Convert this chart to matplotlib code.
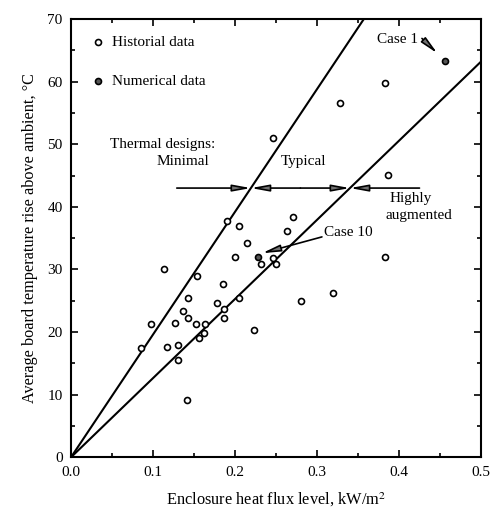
import matplotlib
matplotlib.use("Agg")
import matplotlib.pyplot as plt
import numpy as np
from matplotlib.ticker import MultipleLocator

plt.rcParams['font.family'] = ['Liberation Serif', 'DejaVu Serif']
plt.rcParams['mathtext.fontset'] = 'stix'

# Historical data (heat flux kW/m^2, temperature rise C)
hist_x = [0.085, 0.097, 0.114, 0.117, 0.127, 0.130, 0.131, 0.136, 0.141, 0.143,
          0.143, 0.152, 0.154, 0.156, 0.162, 0.163, 0.178, 0.185, 0.187, 0.187,
          0.190, 0.200, 0.205, 0.205, 0.215, 0.223, 0.232, 0.246, 0.250, 0.264,
          0.271, 0.280, 0.319, 0.383, 0.246, 0.328, 0.387, 0.383]
hist_y = [17.4, 21.3, 30.0, 17.6, 21.5, 18.0, 15.6, 23.3, 9.1, 25.5,
          22.2, 21.3, 28.9, 19.1, 19.8, 21.3, 24.6, 27.6, 23.7, 22.2,
          37.8, 32.0, 25.5, 36.9, 34.2, 20.4, 30.9, 31.8, 30.9, 36.2,
          38.3, 25.0, 26.3, 32.0, 51.0, 56.6, 45.1, 59.8]
# Numerical data
num_x = [0.228, 0.456]
num_y = [32.0, 63.3]
num_labels = ["Case 10", "Case 1"]

# Design boundary slopes (temperature rise per kW/m^2)
slope_minimal = 196.0
slope_typical = 126.4
design_level = 43.0

fig = plt.figure(figsize=(4.94, 5.17), dpi=100)
ax = fig.add_axes([0.1437, 0.1155, 0.8300, 0.8477])

xl = np.array([0.0, 0.5])
ax.plot(xl, slope_minimal * xl, color='black', lw=1.5)
ax.plot(xl, slope_typical * xl, color='black', lw=1.5)

ax.plot(hist_x, hist_y, 'o', mfc='white', mec='black', ms=4.3, mew=1.2, zorder=3)
ax.plot(num_x, num_y, 'o', mfc='#555555', mec='black', ms=4.3, mew=1.2, zorder=3)

# Legend
ax.plot([0.033], [66.4], 'o', mfc='white', mec='black', ms=4.3, mew=1.2)
ax.plot([0.033], [60.1], 'o', mfc='#555555', mec='black', ms=4.3, mew=1.2)
ax.text(0.05, 66.3, "Historial data", fontsize=11, va='center')
ax.text(0.05, 60.0, "Numerical data", fontsize=11, va='center')

x1 = design_level / slope_minimal
x2 = design_level / slope_typical
astyle = '-|>,head_length=1.2,head_width=0.22'
ap = dict(arrowstyle=astyle, ec='black', fc='#707070', lw=1.2, mutation_scale=9,
          shrinkA=0, shrinkB=0)
ax.annotate("", xy=(x1, design_level), xytext=(0.129, design_level), arrowprops=ap)
ax.annotate("", xy=(x1, design_level), xytext=((x1 + x2) / 2, design_level), arrowprops=ap)
ax.annotate("", xy=(x2, design_level), xytext=((x1 + x2) / 2, design_level), arrowprops=ap)
ax.annotate("", xy=(x2, design_level), xytext=(0.425, design_level), arrowprops=ap)

ax.text(0.047, 50.0, "Thermal designs:", fontsize=11, va='center')
ax.text(0.136, 47.3, "Minimal", fontsize=11, va='center', ha='center')
ax.text(0.283, 47.3, "Typical", fontsize=11, va='center', ha='center')
ax.text(0.388, 41.3, "Highly", fontsize=11, va='center')
ax.text(0.383, 38.6, "augmented", fontsize=11, va='center')

# Case labels with pointer arrows
ax.text(0.309, 35.9, num_labels[0], fontsize=11, va='center')
ax.annotate("", xy=(0.233, 32.6), xytext=(0.306, 35.2), arrowprops=ap)
ax.text(0.373, 66.8, num_labels[1], fontsize=11, va='center')
ax.annotate("", xy=(0.447, 64.5), xytext=(0.428, 66.9), arrowprops=ap)

ax.set_xlim(0, 0.5)
ax.set_ylim(0, 70)
ax.xaxis.set_minor_locator(MultipleLocator(0.05))
ax.yaxis.set_major_locator(MultipleLocator(10))
ax.yaxis.set_minor_locator(MultipleLocator(5))
ax.set_xticks([0, 0.1, 0.2, 0.3, 0.4, 0.5])
ax.set_xticklabels(["0.0", "0.1", "0.2", "0.3", "0.4", "0.5"])
ax.tick_params(which='both', direction='in', top=True, right=True, labelsize=11, width=1.2)
ax.tick_params(which='major', length=5, pad=6)
ax.tick_params(which='minor', length=3)
for s in ax.spines.values():
    s.set_linewidth(1.5)

ax.set_xlabel("Enclosure heat flux level, kW/m$^2$", fontsize=11.8, labelpad=9)
ax.set_ylabel("Average board temperature rise above ambient, °C", fontsize=11.7, labelpad=7)

fig.savefig("out.png", dpi=100)
